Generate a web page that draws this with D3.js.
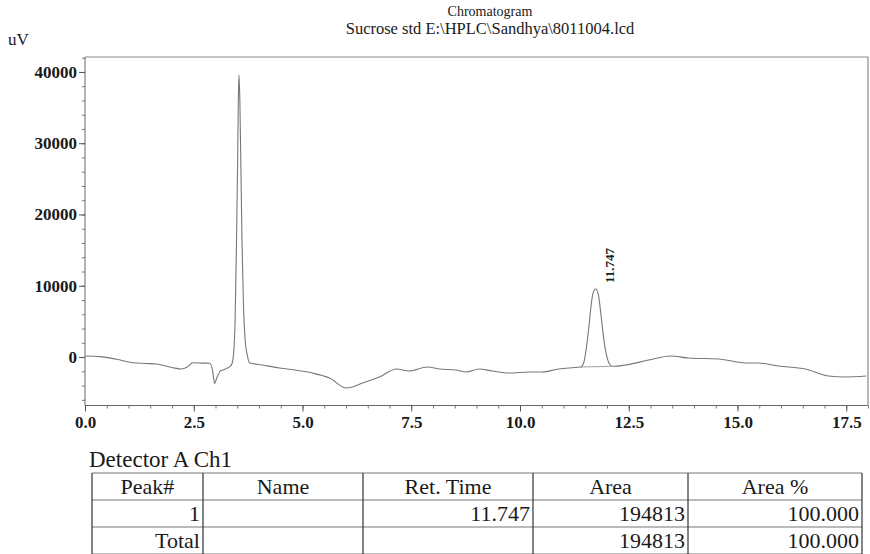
<!DOCTYPE html>
<html>
<head>
<meta charset="utf-8">
<script src="https://cdn.jsdelivr.net/npm/d3@7/dist/d3.min.js"></script>
<style>
  html,body{margin:0;padding:0;background:#fff;}
  svg text{font-family:'Liberation Serif','Times New Roman',serif;fill:#1a1a1a;}
</style>
</head>
<body>
<div id="chart"></div>
<script>
// Chromatogram — sucrose standard, detector A ch1
const titleLines = ['Chromatogram', 'Sucrose std E:\\HPLC\\Sandhya\\8011004.lcd'];
const xMajor = [0, 2.5, 5, 7.5, 10, 12.5, 15, 17.5];
const yMajor = [0, 10000, 20000, 30000, 40000];
// retention time (min) and signal (uV)
const traceT = [0.00,0.35,0.73,1.10,1.40,1.64,2.02,2.22,2.35,2.48,2.70,2.87,2.93,2.98,3.03,3.06,3.12,3.17,3.25,3.33,
  3.38,3.42,3.45,3.48,3.51,3.525,3.54,3.56,3.585,3.61,3.64,3.68,3.73,3.78,
  4.08,4.47,4.93,5.23,5.62,6.01,6.15,6.38,6.77,7.16,7.45,7.87,8.14,8.53,8.76,9.06,9.36,9.75,10.21,10.50,10.89,11.20,
  11.40,11.47,11.53,11.58,11.63,11.68,11.74,11.80,11.86,11.92,11.98,12.05,12.12,
  12.43,12.96,13.46,13.88,14.56,15.25,15.48,15.94,16.56,17.09,17.48,17.96];
const traceV = [140,60,-320,-800,-900,-980,-1500,-1680,-1400,-800,-850,-880,-1800,-3700,-2900,-2530,-1900,-1820,-1600,-1360,
  -900,800,5000,15000,28000,36000,39600,36000,26000,16000,8000,2500,300,-800,
  -1120,-1540,-1920,-2250,-2950,-4350,-4200,-3650,-2800,-1680,-1960,-1400,-1680,-1820,-2100,-1680,-1960,-2250,-2100,-2100,-1680,-1500,
  -1400,-700,1500,4000,7000,9000,9540,8800,6000,2800,500,-900,-1300,
  -1120,-420,140,-140,-280,-840,-840,-1260,-1680,-2670,-2800,-2670];
const peakLabel = {t: 11.747, v: 9540, text: '11.747'};
const baseSeg = [[11.40,-1400],[12.10,-1300]];
// peak table
const tableTitle = 'Detector A Ch1';
const tableHead = ['Peak#', 'Name', 'Ret. Time', 'Area', 'Area %'];
const tableRows = [['1', '', '11.747', '194813', '100.000'], ['Total', '', '', '194813', '100.000']];

(function() {
  const W = 870, H = 554;
  const m = {top:57,right:2,bottom:148.5,left:85};
  const svg = d3.select('#chart').append('svg').attr('width',W).attr('height',H);

  const x = d3.scaleLinear().domain([0,18]).range([m.left, W-m.right]);
  const y = d3.scaleLinear().domain([-6800,42100]).range([H-m.bottom, m.top]);

  // titles
  const tSize = [14, 16.5];
  svg.selectAll('.ttl').data(titleLines).join('text').attr('class','ttl')
    .attr('x',490).attr('y',(d,i)=>16+i*18).attr('text-anchor','middle')
    .style('font-size',(d,i)=>tSize[i]+'px').text(d=>d);
  svg.append('text').attr('x',8).attr('y',45).style('font-size','17px').text('uV');

  // frame (top + right)
  svg.append('path').attr('d',`M${x(0)},${m.top}H${x(18)}V${y(-6800)}`)
    .attr('fill','none').attr('stroke','#8a8a8a').attr('stroke-width',1.2);

  // y axis
  const yMinor = d3.range(-6000, 42001, 2000);
  svg.append('g').attr('transform',`translate(${m.left},0)`)
    .call(d3.axisLeft(y).tickValues(yMinor).tickSize(3).tickFormat(''))
    .call(g=>g.select('.domain').remove())
    .call(g=>g.selectAll('line').attr('stroke','#777'));
  svg.append('g').attr('transform',`translate(${m.left},0)`)
    .call(d3.axisLeft(y).tickValues(yMajor).tickSize(6).tickPadding(2).tickFormat(d3.format('d')))
    .call(g=>g.select('.domain').attr('stroke','#666').attr('d',`M0,${m.top}V${y(-6800)}`))
    .call(g=>g.selectAll('line').attr('stroke','#555'))
    .call(g=>g.selectAll('text').style('font-size','17px').style('font-weight','bold').attr('fill','#1a1a1a'));

  // x axis
  const xMinor = d3.range(0, 18.01, 0.5);
  svg.append('g').attr('transform',`translate(0,${y(-6800)})`)
    .call(d3.axisBottom(x).tickValues(xMinor).tickSize(3).tickFormat(''))
    .call(g=>g.select('.domain').remove())
    .call(g=>g.selectAll('line').attr('stroke','#777'));
  svg.append('g').attr('transform',`translate(0,${y(-6800)})`)
    .call(d3.axisBottom(x).tickValues(xMajor).tickSize(6).tickPadding(4).tickFormat(d3.format('.1f')))
    .call(g=>g.select('.domain').attr('stroke','#666').attr('d',`M${x(0)},0H${x(18)}`))
    .call(g=>g.selectAll('line').attr('stroke','#555'))
    .call(g=>g.selectAll('text').style('font-size','17px').style('font-weight','bold').attr('fill','#1a1a1a'));

  // trace
  const pts = traceT.map((t,i)=>[t, traceV[i]]);
  const line = d3.line().x(d=>x(d[0])).y(d=>y(d[1])).curve(d3.curveMonotoneX);
  svg.append('path').datum(pts).attr('d',line)
    .attr('fill','none').attr('stroke','#777').attr('stroke-width',1.1);
  svg.append('path').datum(baseSeg).attr('d',d3.line().x(d=>x(d[0])).y(d=>y(d[1])))
    .attr('fill','none').attr('stroke','#888').attr('stroke-width',0.8);

  // peak label
  svg.append('text')
    .attr('transform',`translate(${x(peakLabel.t)+18},${y(peakLabel.v)-6}) rotate(-90)`)
    .style('font-size','13px').style('font-weight','bold').text(peakLabel.text);

  // peak table
  const cols = [92, 203, 363, 533, 688, 862];
  const rowsY = [473, 500, 527, 554];
  const fs = '22px';
  svg.append('text').attr('x',89).attr('y',467).style('font-size','23px').text(tableTitle);
  const tg = svg.append('g');
  tg.selectAll('.hl').data(rowsY).join('line').attr('class','hl')
    .attr('x1',cols[0]).attr('x2',cols[5]).attr('y1',d=>d).attr('y2',d=>d)
    .attr('stroke','#777').attr('stroke-width',1.2);
  tg.selectAll('.vl').data(cols).join('line').attr('class','vl')
    .attr('x1',d=>d).attr('x2',d=>d).attr('y1',rowsY[0]).attr('y2',rowsY[3])
    .attr('stroke','#333').attr('stroke-width',1.2);
  tg.selectAll('.th').data(tableHead).join('text').attr('class','th')
    .attr('x',(d,i)=>(cols[i]+cols[i+1])/2).attr('y',rowsY[0]+21).attr('text-anchor','middle')
    .style('font-size',fs).text(d=>d);
  tableRows.forEach((r,ri)=>{
    tg.selectAll('.td'+ri).data(r).join('text').attr('class','td'+ri)
      .attr('x',(d,i)=>cols[i+1]-3).attr('y',rowsY[ri+1]+21).attr('text-anchor','end')
      .style('font-size',fs).text(d=>d);
  });
})();
</script>
</body>
</html>
